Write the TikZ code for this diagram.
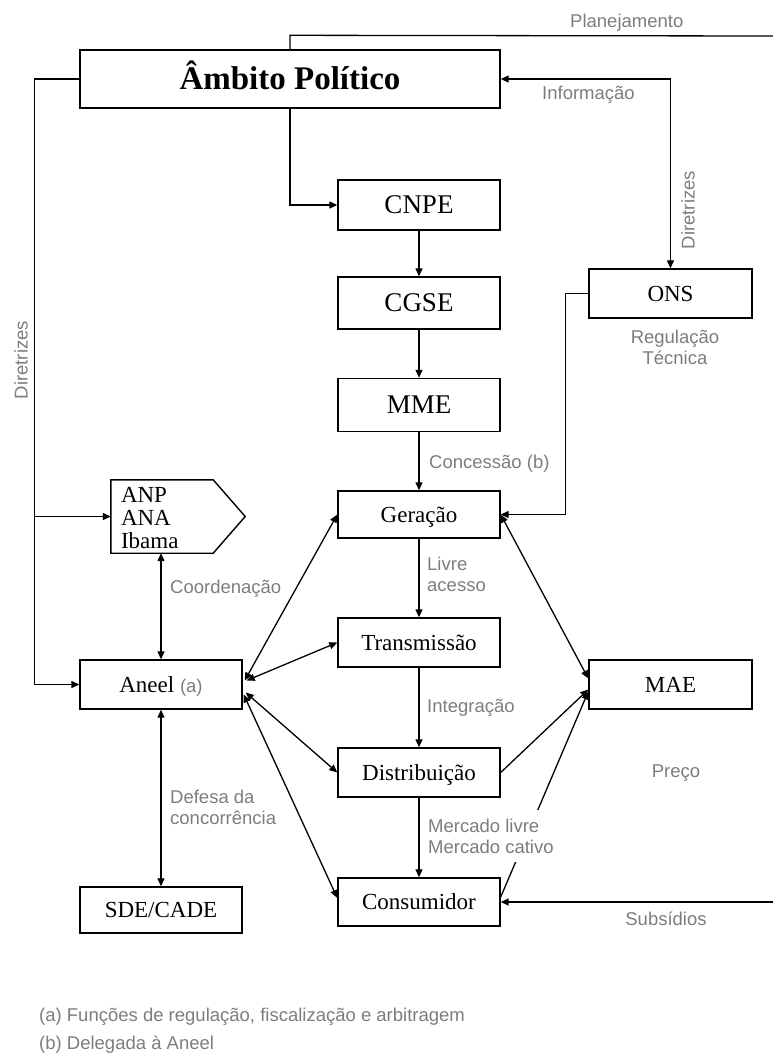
\documentclass[tikz,border=0pt]{standalone}
\usepackage{fontspec}
\setmainfont{Liberation Serif}
\setsansfont{Liberation Sans}
\usetikzlibrary{arrows.meta,calc}
\definecolor{lblgray}{RGB}{125,125,125}
\tikzset{
  box/.style={draw, line width=1.4pt, minimum width=162pt, inner sep=0pt, text height=15.2pt, text depth=0pt, font=\fontsize{23}{25}\selectfont},
  bigbox/.style={box, text height=17.8pt, font=\fontsize{27}{29}\selectfont},
  lbl/.style={text=lblgray, inner sep=0pt, font=\sffamily\fontsize{18.5}{21}\selectfont},
  conn/.style={line width=1.3pt},
  tip/.style={-{Triangle[length=8pt,width=7pt]}},
  tips/.style={{Triangle[length=8pt,width=7pt]}-{Triangle[length=8pt,width=7pt]}},
}
\begin{document}
\begin{tikzpicture}[x=1pt,y=-1pt]
\useasboundingbox (0,0) rectangle (773,1055);
% boxes
\node[box, minimum width=420pt, minimum height=58pt, text height=21.8pt, font=\bfseries\fontsize{33}{35}\selectfont] (ambito) at (290,79) {Âmbito Político};
\node[bigbox, minimum height=50pt] (cnpe) at (419,205) {CNPE};
\node[bigbox, minimum height=52pt] (cgse) at (419,303) {CGSE};
\node[bigbox, minimum height=53pt] (mme) at (419,405) {MME};
\node[box, minimum width=163pt, minimum height=49pt] (ons) at (670.5,293.5) {ONS};
\node[box, minimum height=47pt] (geracao) at (419,514.5) {Geração};
\node[box, minimum height=49pt] (transm) at (419,642.5) {Transmissão};
\node[box, minimum height=49pt] (distr) at (419,772.5) {Distribuição};
\node[box, minimum height=48pt] (consum) at (419,902) {Consumidor};
\node[box, minimum height=49pt] (aneel) at (161,684.5) {Aneel {\sffamily\color{lblgray}\fontsize{18.5}{20}\selectfont(a)}};
\node[box, minimum height=46pt] (sde) at (161,910) {SDE/CADE};
\node[box, minimum width=163pt, minimum height=49pt] (mae) at (670.5,684.5) {MAE};
% ANP signal shape
\node[minimum width=134pt, minimum height=73pt, inner sep=0pt] (anp) at (178,516.5) {};
\draw[line width=1.4pt] (anp.north west) -- ($(anp.north east)+(-32,0)$) -- (anp.east) -- ($(anp.south east)+(-32,0)$) -- (anp.south west) -- cycle;
\node[anchor=west, align=left, inner sep=0pt, font=\fontsize{23}{23}\selectfont] (anptext) at ($(anp.west)+(10,2)$) {ANP\\ANA\\Ibama};
% free coordinates
\coordinate (planEnd) at (773,36);
\coordinate (subEnd) at (773,902);
% connectors
\draw[conn] (ambito.north) -- ($(ambito.north)+(0,-14)$) -- (planEnd);
\draw[conn, tip] (ambito.west) -- ++(-45,0) coordinate (leftc) |- (aneel.west);
\draw[conn, tip] (leftc |- anp.west) -- (anp.west);
\draw[conn, tip] (ambito.south) |- (cnpe.west);
\draw[conn, tip] (cnpe) -- (cgse);
\draw[conn, tip] (cgse) -- (mme);
\draw[conn, tip] (mme) -- (geracao);
\draw[conn, tips] (ambito.east) -| (ons.north);
\draw[conn, tip] (ons.west) -- ++(-23,0) |- (geracao.east);
\draw[conn, tip] (geracao) -- (transm);
\draw[conn, tip] (transm) -- (distr);
\draw[conn, tip] (distr) -- (consum);
\draw[conn, tips] (aneel.north |- anp.south) -- (aneel.north);
\draw[conn, tips] (aneel.south) -- (sde.north);
\draw[conn, tips] ($(aneel.east)+(2,-4)$) -- (geracao.west);
\draw[conn, tips] ($(aneel.east)+(4,-4)$) -- (transm.west);
\draw[conn, tips] ($(aneel.east)+(3,8)$) -- (distr.west);
\draw[conn, tips] ($(aneel.east)+(1,10)$) -- ($(consum.west)+(0,-4)$);
\draw[conn, tips] (geracao.east) -- ($(mae.west)+(0,-6)$);
\draw[conn, tip] (distr.east) -- ($(mae.west)+(0,5)$);
\draw[conn, tip] ($(consum.east)+(0,-5)$) -- ($(mae.west)+(0,7)$);
\draw[conn, tip] (subEnd) -- (consum.east);
% labels
\node[lbl, anchor=west] (lplan) at (570,23) {Planejamento};
\node[lbl, anchor=west] (linfo) at (542,95) {Informação};
\node[lbl, rotate=90] (ldir1) at (688,210) {Diretrizes};
\node[lbl, rotate=90] (ldir2) at (21,360) {Diretrizes};
\node[lbl, align=center] (lreg) at (675,347) {Regulação\\Técnica};
\node[lbl, anchor=west] (lconc) at (429,464) {Concessão (b)};
\node[lbl, anchor=west] (lcoord) at (170,589) {Coordenação};
\node[lbl, anchor=west, align=left] (llivre) at (427,574) {Livre\\acesso};
\node[lbl, anchor=west] (linteg) at (427,708) {Integração};
\node[lbl] (lpreco) at (676,773) {Preço};
\node[lbl, anchor=west, align=left] (ldef) at (170,807) {Defesa da\\concorrência};
\node[lbl, anchor=west, align=left, fill=white, inner xsep=1pt, inner ysep=9pt] (lmerc) at (427,836) {Mercado livre\\Mercado cativo};
\node[lbl] (lsub) at (666,919) {Subsídios};
\node[lbl, anchor=west] (lfa) at (39,1017) {(a) Funções de regulação, fiscalização e arbitragem};
\node[lbl, anchor=west] (lfb) at (39,1045) {(b) Delegada à Aneel};
\end{tikzpicture}
\end{document}
